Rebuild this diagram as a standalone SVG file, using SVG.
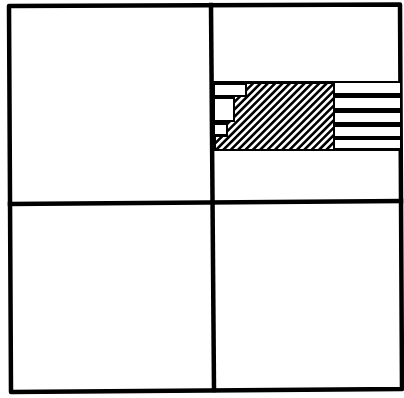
<svg xmlns="http://www.w3.org/2000/svg" width="404" height="398" viewBox="0 0 404 398">
  <style>
    .line { fill: none; stroke: #000; stroke-width: 4.5; stroke-linejoin: round; stroke-linecap: square; }
    .cell { fill: #fff; }
  </style>
  <defs>
    <pattern id="hatch" patternUnits="userSpaceOnUse" width="5.2" height="10" patternTransform="rotate(45)">
      <rect x="0" y="0" width="5.2" height="10" fill="#000"/>
      <rect x="0" y="0" width="2.6" height="10" fill="#fff"/>
    </pattern>
  </defs>
  <rect width="404" height="398" fill="#fff"/>

  <g id="frame">
    <polygon class="line" points="9,6 400,4.5 402,389 11,392"/>
    <line class="line" x1="211" y1="5" x2="214" y2="390"/>
    <line class="line" x1="10" y1="204" x2="401" y2="201"/>
  </g>

  <g id="band">
    <rect x="212" y="81" width="189" height="70" fill="#000"/>
    <g id="small-boxes">
      <rect class="cell" x="215" y="85" width="30" height="10"/>
      <rect class="cell" x="215" y="99" width="18" height="21"/>
      <rect class="cell" x="215" y="125" width="11" height="9"/>
    </g>
    <g id="hatched">
      <polygon fill="url(#hatch)" points="247,84 333,84 333,149 216,149 216,137 228,137 228,122 235,122 235,97 247,97"/>
    </g>
    <g id="rows">
      <rect class="cell" x="335" y="83" width="65" height="10"/>
      <rect class="cell" x="335" y="98" width="65" height="10"/>
      <rect class="cell" x="335" y="113" width="65" height="9"/>
      <rect class="cell" x="335" y="127" width="65" height="9"/>
      <rect class="cell" x="335" y="140" width="65" height="8"/>
    </g>
  </g>
</svg>
